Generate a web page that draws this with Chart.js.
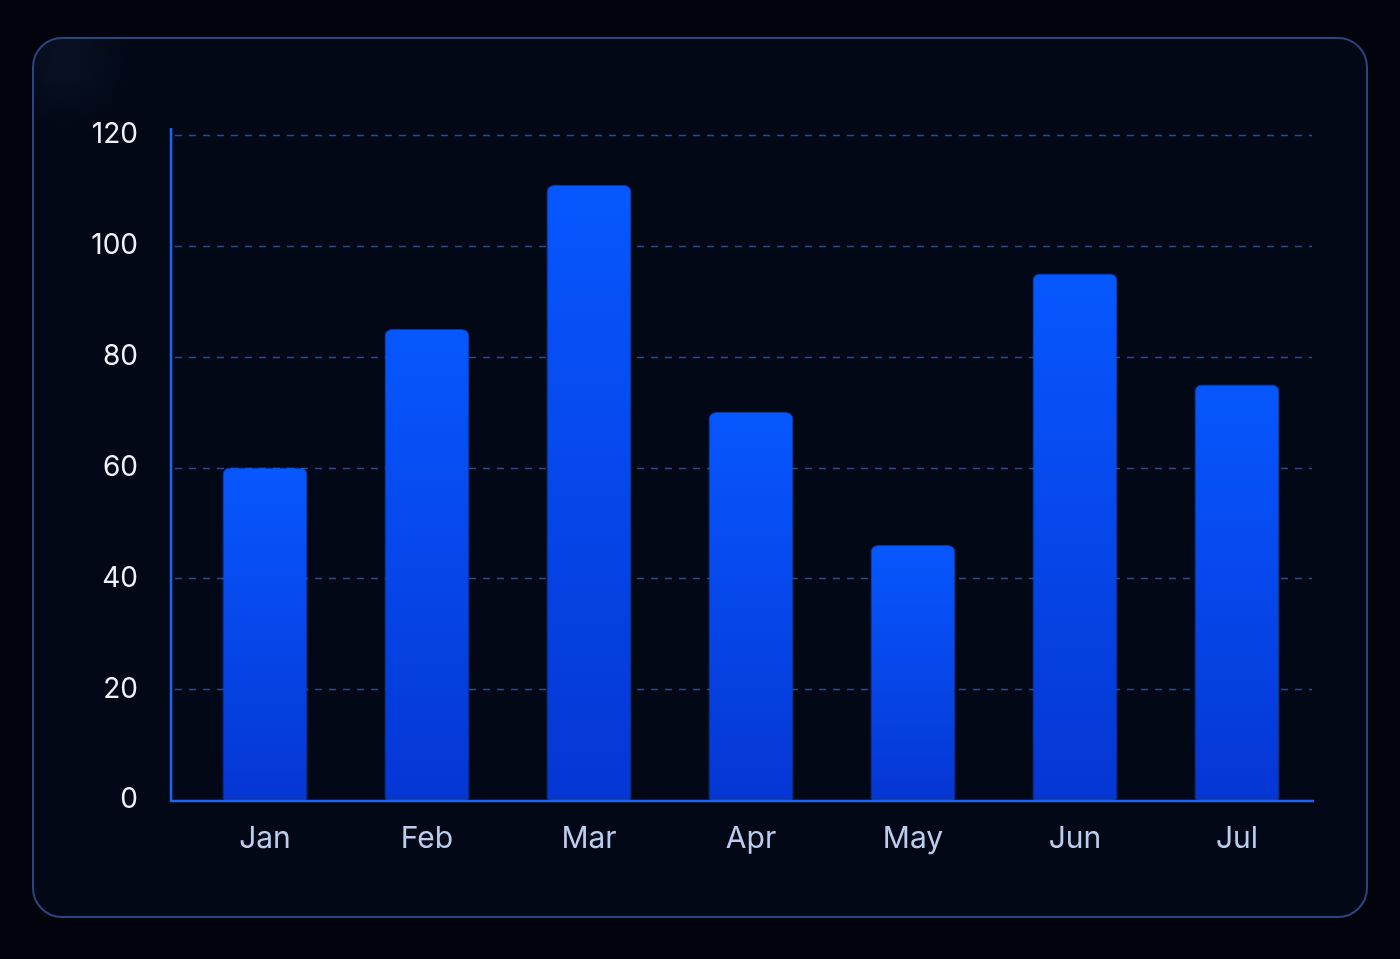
<!DOCTYPE html>
<html>
<head>
<meta charset="utf-8">
<script src="https://cdn.jsdelivr.net/npm/chart.js@4.4.1/dist/chart.umd.min.js"></script>
<style>
  html, body { margin: 0; padding: 0; background: #01040c; width: 1400px; height: 959px; overflow: hidden; }
  #panel {
    position: absolute; left: 32px; top: 37px; width: 1332px; height: 877px;
    border: 2px solid #2a4580; border-radius: 30px;
    background: radial-gradient(circle at 30px 20px, rgba(40,60,110,0.18), rgba(3,10,25,0) 70px), #020815;
  }
  #chart { position: absolute; left: 0; top: 0; }
</style>
</head>
<body>
<div id="panel"></div>
<canvas id="chart" width="1400" height="959"></canvas>
<script>
// Monthly values
const months = ["Jan", "Feb", "Mar", "Apr", "May", "Jun", "Jul"];
const values = [60, 85, 111, 70, 46, 95, 75];
const yTicks = [0, 20, 40, 60, 80, 100, 120];

const axisColor = '#1d63f5';
const gridColor = '#2a4a8c';

// Vertical gradient per bar, bright on top and deeper at the base
function barGradient(context) {
    const chart = context.chart;
    const area = chart.chartArea;
    if (!area) return '#0a52f5';
    const y = chart.scales.y;
    const top = y.getPixelForValue(context.raw);
    const base = y.getPixelForValue(0);
    const g = chart.ctx.createLinearGradient(0, top, 0, base);
    g.addColorStop(0, '#0757ff');
    g.addColorStop(1, '#0536d4');
    return g;
}

// Axis lines and dashed grid drawn from the scales
const axesPlugin = {
    id: 'axesPlugin',
    beforeDatasetsDraw(chart) {
        const { ctx, chartArea, scales } = chart;
        const x0 = chartArea.left - 13;
        const x1 = chartArea.right - 6;
        ctx.save();
        ctx.strokeStyle = gridColor;
        ctx.lineWidth = 1.5;
        ctx.setLineDash([7, 7]);
        scales.y.ticks.forEach(t => {
            if (t.value === 0) return;
            const py = Math.round(scales.y.getPixelForValue(t.value)) + 0.5;
            ctx.beginPath();
            ctx.moveTo(x0 + 4, py);
            ctx.lineTo(x1, py);
            ctx.stroke();
        });
        ctx.restore();
    },
    afterDatasetsDraw(chart) {
        const { ctx, chartArea, scales } = chart;
        const x0 = chartArea.left - 13;
        const base = scales.y.getPixelForValue(0);
        ctx.save();
        ctx.strokeStyle = axisColor;
        ctx.lineWidth = 2.5;
        ctx.beginPath();
        ctx.moveTo(x0, chartArea.top - 7);
        ctx.lineTo(x0, base + 1);
        ctx.lineTo(chartArea.right - 4, base + 1);
        ctx.stroke();
        ctx.restore();
    }
};

new Chart(document.getElementById('chart'), {
    type: 'bar',
    data: {
        labels: months,
        datasets: [{
            data: values,
            backgroundColor: barGradient,
            borderColor: 'rgba(70,130,255,0.4)',
            borderWidth: 1,
            borderSkipped: false,
            borderRadius: { topLeft: 7, topRight: 7, bottomLeft: 2, bottomRight: 2 },
            barPercentage: 0.525,
            categoryPercentage: 1
        }]
    },
    options: {
        responsive: false,
        devicePixelRatio: 1,
        animation: false,
        layout: { padding: { left: 0, top: 135, right: 82, bottom: 99 } },
        plugins: { legend: { display: false }, tooltip: { enabled: false } },
        scales: {
            x: {
                grid: { display: false, drawTicks: false },
                border: { display: false },
                ticks: {
                    color: '#bccdee',
                    padding: 21,
                    font: { family: 'Inter', size: 30 }
                },
                afterFit(scale) { scale.height = 60; }
            },
            y: {
                min: 0,
                max: 120,
                afterBuildTicks(scale) { scale.ticks = yTicks.map(v => ({ value: v })); },
                grid: { display: false, drawTicks: false },
                border: { display: false },
                ticks: {
                    color: '#eef2fa',
                    padding: 46,
                    font: { family: 'Inter', size: 28 }
                },
                afterFit(scale) { scale.width = 184; }
            }
        }
    },
    plugins: [axesPlugin]
});
</script>
</body>
</html>
